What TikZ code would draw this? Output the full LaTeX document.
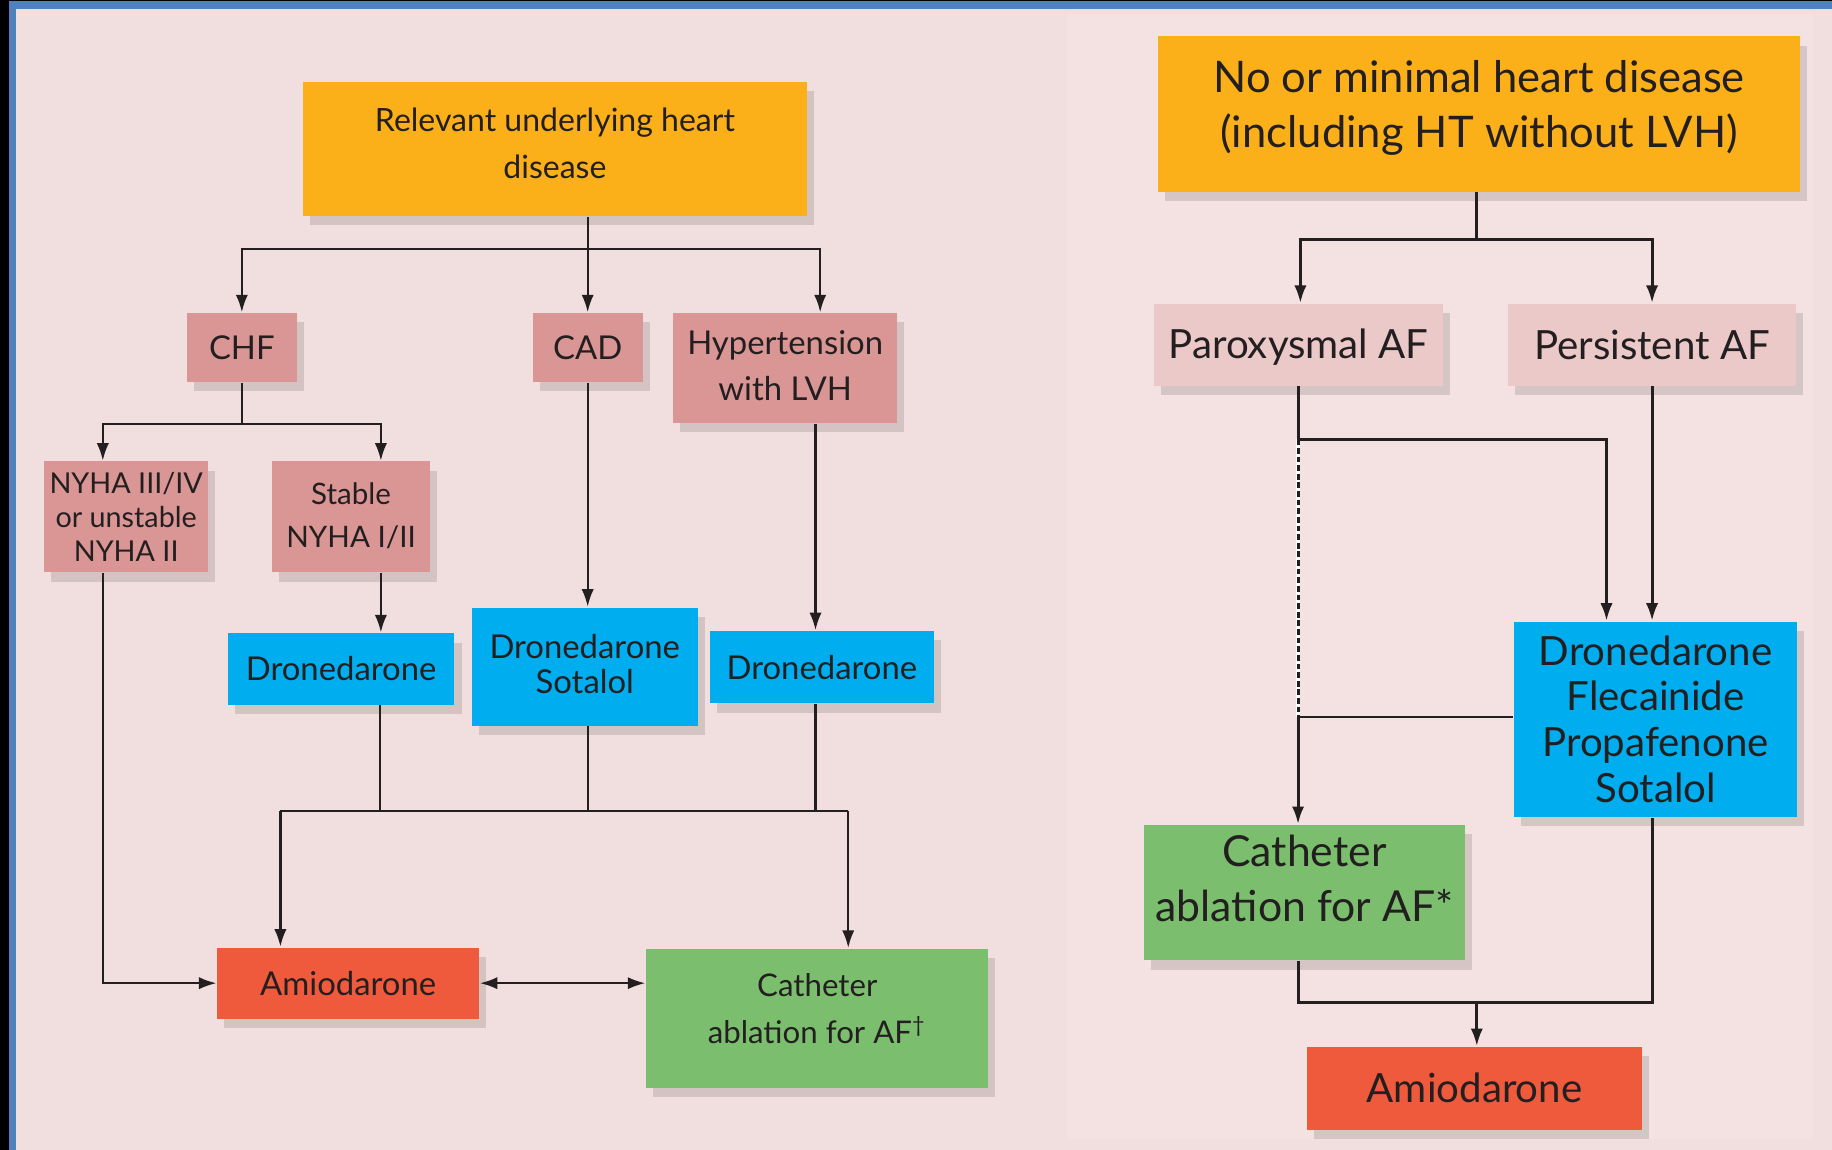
\documentclass[tikz,border=0pt]{standalone}
\usepackage{fontspec}
\setmainfont{Lato}
\usetikzlibrary{arrows.meta,shadows}
\definecolor{bg}{RGB}{241,222,222}
\definecolor{bgr}{RGB}{244,225,225}
\definecolor{bord}{RGB}{79,129,189}
\definecolor{orng}{RGB}{251,176,26}
\definecolor{pinkbox}{RGB}{217,150,148}
\definecolor{pinklt}{RGB}{235,201,200}
\definecolor{bluebox}{RGB}{0,174,239}
\definecolor{redbox}{RGB}{239,90,60}
\definecolor{greenbox}{RGB}{122,190,110}
\definecolor{txt}{RGB}{35,31,32}
% name, x1, y1, x2, y2, box style, text style, text (text raised by option in style)
\newcommand{\mybox}[8]{%
  \node[#6, minimum width={(#4-#2)*0.1mm}, minimum height={(#5-#3)*0.1mm}]
    (#1) at ({(#2+#4)/2},{(#3+#5)/2}) {};
  \node[tx, #7] (#1-t) at (#1.center) {#8};}
\begin{document}
\begin{tikzpicture}[x=0.1mm,y=-0.1mm,
  bx/.style={rectangle, inner sep=0pt,
    drop shadow={shadow xshift=0.6mm, shadow yshift=-0.8mm, opacity=0.12, fill=black}},
  tx/.style={inner sep=0pt, align=center, text=txt},
  ln/.style={draw=txt, line width=0.55pt},
  lnr/.style={draw=txt, line width=0.7pt},
  arr/.style={-{Latex[length=1.5mm,width=1.05mm]}},
  fL/.style={font=\fontsize{8}{11.4}\selectfont},
  fR/.style={font=\fontsize{9.8}{13.3}\selectfont}]
\useasboundingbox (0,0) rectangle (1568,984);
\fill[black] (0,0) rectangle (1568,984);
\fill[bord] (8,1) rectangle (1568,984);
\fill[bg] (14,8) rectangle (1568,984);
\fill[bgr] (913,12) rectangle (1552,975);

% ---------- left panel ----------
\mybox{top1}{259}{70}{691}{185}{bx,fill=orng}{font=\fontsize{7.8}{11.4}\selectfont,yshift=0.5mm}{Relevant underlying heart\\disease}
\mybox{chf}{160}{268}{254}{327}{bx,fill=pinkbox}{fL}{CHF}
\mybox{cad}{456}{268}{550}{327}{bx,fill=pinkbox}{fL}{CAD}
\mybox{hyp}{576}{268}{768}{362}{bx,fill=pinkbox}{fL,yshift=0.2mm}{Hypertension\\with LVH}
\mybox{nyA}{38}{395}{178}{490}{bx,fill=pinkbox}{font=\fontsize{7}{8.2}\selectfont}{NYHA III/IV\\or unstable\\NYHA II}
\mybox{nyB}{233}{395}{368}{490}{bx,fill=pinkbox}{font=\fontsize{7.2}{10.5}\selectfont,yshift=0.1mm}{Stable\\NYHA I/II}
\mybox{dr1}{195}{542}{389}{603}{bx,fill=bluebox}{fL}{Dronedarone}
\mybox{dr2}{404}{520}{597}{621}{bx,fill=bluebox}{font=\fontsize{8}{8.6}\selectfont,yshift=0.2mm}{Dronedarone\\Sotalol}
\mybox{dr3}{608}{540}{799}{602}{bx,fill=bluebox}{fL}{Dronedarone}
\mybox{am1}{186}{811}{410}{872}{bx,fill=redbox}{fL}{Amiodarone}
\mybox{ca1}{553}{812}{846}{931}{bx,fill=greenbox}{font=\fontsize{7.6}{11.4}\selectfont,yshift=0.8mm}{Catheter\\ablation for AF\textsuperscript{\dag}}

\coordinate (j1) at (503,213);
\draw[ln] (top1.south -| j1) -- (j1);
\draw[ln,arr] (j1) -| (chf.north);
\draw[ln,arr] (j1) -- (cad.north);
\coordinate (xh) at (702,0);
\draw[ln,arr] (j1) -| (xh |- hyp.north);

\coordinate (j2) at (207,363);
\coordinate (xa) at (88,0);
\coordinate (xb) at (326,0);
\draw[ln] (chf.south) -- (j2);
\draw[ln,arr] (j2) -| (xa |- nyA.north);
\draw[ln,arr] (j2) -| (xb |- nyB.north);
\draw[ln,arr] (xa |- nyA.south) |- (am1.west);
\draw[ln,arr] (xb |- nyB.south) -- (xb |- dr1.north);
\draw[ln,arr] (cad.south) -- (cad.south |- dr2.north);
\coordinate (xc) at (698,0);
\draw[ln,arr] (xc |- hyp.south) -- (xc |- dr3.north);

\coordinate (m0) at (240,694);
\coordinate (m4) at (726,694);
\coordinate (xd) at (325,0);
\draw[ln] (xd |- dr1.south) -- (xd |- m0);
\draw[ln] (dr2.south -| cad.south) -- (m0 -| cad.south);
\draw[ln] (xc |- dr3.south) -- (xc |- m0);
\draw[ln] (m0) -- (m4);
\draw[ln,arr] (m0) -- (m0 |- am1.north);
\draw[ln,arr] (m4) -- (m4 |- ca1.north);
\draw[ln,{Latex[length=1.5mm,width=1.05mm]}-{Latex[length=1.5mm,width=1.05mm]}] (am1.east) -- (ca1.west |- am1.east);

% ---------- right panel ----------
\mybox{top2}{991}{31}{1541}{164}{bx,fill=orng}{font=\fontsize{10.6}{13.4}\selectfont,yshift=0.5mm}{No or minimal heart disease\\(including HT without LVH)}
\mybox{par}{988}{260}{1235}{330}{bx,fill=pinklt}{fR,yshift=-0.2mm}{Paroxysmal AF}
\mybox{per}{1291}{260}{1537}{330}{bx,fill=pinklt}{fR}{Persistent AF}
\mybox{dr4}{1296}{532}{1538}{699}{bx,fill=bluebox}{font=\fontsize{9.8}{11.1}\selectfont}{Dronedarone\\Flecainide\\Propafenone\\Sotalol}
\mybox{ca2}{979}{706}{1254}{822}{bx,fill=greenbox}{font=\fontsize{10.4}{13.3}\selectfont,yshift=1.2mm}{Catheter\\ablation for AF*}
\mybox{am2}{1119}{896}{1405}{967}{bx,fill=redbox}{fR}{Amiodarone}

\coordinate (r1) at (1264,205);
\coordinate (xp) at (1113,0);
\coordinate (xq) at (1414,0);
\coordinate (xr) at (1111,0);
\coordinate (xs) at (1375,0);
\draw[lnr] (top2.south -| r1) -- (r1);
\draw[lnr,arr] (r1) -| (xp |- par.north);
\draw[lnr,arr] (r1) -| (xq |- per.north);
\coordinate (r2) at (1111,376);
\draw[lnr] (xr |- par.south) -- (r2);
\draw[lnr,arr] (r2) -| (xs |- dr4.north);
\draw[lnr,arr] (xq |- per.south) -- (xq |- dr4.north);
\coordinate (r3) at (1111,614);
\draw[white, line width=0.9pt] (r2) -- (r3);
\draw[txt, line width=0.7pt, dash pattern=on 1.4pt off 0.7pt] (r2) -- (r3);
\draw[draw=txt, line width=0.5pt] (dr4.west |- r3) -- (r3);
\draw[lnr,arr] (r3) -- (xr |- ca2.north);
\coordinate (r4) at (1264,858);
\draw[lnr] (xr |- ca2.south) |- (xq |- r4) -- (xq |- dr4.south);
\draw[lnr,arr] (r4) -- (r4 |- am2.north);
\end{tikzpicture}
\end{document}
